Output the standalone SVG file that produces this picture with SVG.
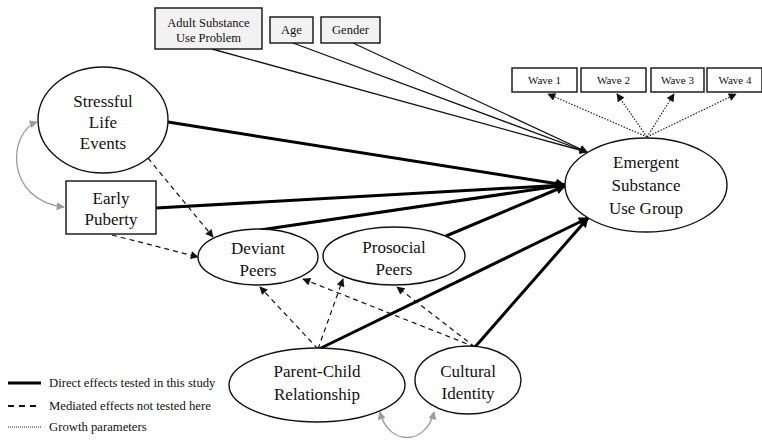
<svg xmlns="http://www.w3.org/2000/svg" width="762" height="441" viewBox="0 0 762 441">
<style>
text{font-family:"Liberation Serif","Times New Roman",serif;fill:#111;text-anchor:middle}
.n{font-size:17px}
.s{font-size:12.5px}
.w{font-size:11px}
.lg{font-size:12.7px;text-anchor:start}
.node{fill:#fff;stroke:#111;stroke-width:1.4}
.cov{fill:#f2f2f2;stroke:#111;stroke-width:1.4}
.thick{stroke:#000;stroke-width:3;fill:none}
.thin{stroke:#111;stroke-width:1.3;fill:none}
.dash{stroke:#111;stroke-width:1.2;stroke-dasharray:5,4;fill:none}
.dot{stroke:#222;stroke-width:1.2;stroke-dasharray:1.5,1.5;fill:none}
.gray{stroke:#9a9a9a;stroke-width:1.3;fill:none}
</style>
<defs>
<marker id="aT" viewBox="0 0 10 10" refX="9" refY="5" markerWidth="14" markerHeight="10" markerUnits="userSpaceOnUse" orient="auto"><path d="M0,0 L10,5 L0,10 z" fill="#000"/></marker>
<marker id="aS" viewBox="0 0 10 10" refX="9" refY="5" markerWidth="10" markerHeight="8" markerUnits="userSpaceOnUse" orient="auto"><path d="M0,0 L10,5 L0,10 z" fill="#111"/></marker>
<marker id="aG" viewBox="0 0 10 10" refX="9" refY="5" markerWidth="9" markerHeight="8" markerUnits="userSpaceOnUse" orient="auto-start-reverse"><path d="M0,0 L10,5 L0,10 z" fill="#9a9a9a"/></marker>
</defs>

<g id="connectors">
<!-- covariates -->
<line class="thin" x1="212" y1="49" x2="587" y2="152" marker-end="url(#aS)"/>
<line class="thin" x1="293" y1="43" x2="587" y2="152" marker-end="url(#aS)"/>
<line class="thin" x1="353" y1="43" x2="587" y2="152" marker-end="url(#aS)"/>
<!-- growth -->
<line class="dot" x1="647" y1="137" x2="548" y2="94" marker-end="url(#aS)"/>
<line class="dot" x1="647" y1="137" x2="617" y2="94" marker-end="url(#aS)"/>
<line class="dot" x1="647" y1="137" x2="674" y2="94" marker-end="url(#aS)"/>
<line class="dot" x1="647" y1="137" x2="736" y2="94" marker-end="url(#aS)"/>
<!-- direct effects -->
<line class="thick" x1="168" y1="122" x2="565" y2="185" marker-end="url(#aT)"/>
<line class="thick" x1="156" y1="208" x2="565" y2="185" marker-end="url(#aT)"/>
<line class="thick" x1="260" y1="230" x2="565" y2="185" marker-end="url(#aT)"/>
<line class="thick" x1="446" y1="236" x2="565" y2="186" marker-end="url(#aT)"/>
<line class="thick" x1="319" y1="349" x2="588" y2="218" marker-end="url(#aT)"/>
<line class="thick" x1="475" y1="347" x2="588" y2="218" marker-end="url(#aT)"/>
<!-- mediated -->
<line class="dash" x1="148" y1="158" x2="213" y2="237" marker-end="url(#aS)"/>
<line class="dash" x1="112" y1="235" x2="198" y2="257" marker-end="url(#aS)"/>
<line class="dash" x1="318" y1="349" x2="260" y2="287" marker-end="url(#aS)"/>
<line class="dash" x1="318" y1="349" x2="343" y2="279" marker-end="url(#aS)"/>
<line class="dash" x1="475" y1="347" x2="303" y2="279" marker-end="url(#aS)"/>
<line class="dash" x1="475" y1="347" x2="397" y2="287" marker-end="url(#aS)"/>
<!-- correlations -->
<path class="gray" d="M37,122 C8,132 4,200 64,207" marker-start="url(#aG)" marker-end="url(#aG)"/>
<path class="gray" d="M380,412 C388,446 426,446 434,412" marker-start="url(#aG)" marker-end="url(#aG)"/>
</g>

<g id="adult-substance-use-problem">
<rect class="cov" x="155" y="8" width="107" height="41"/>
<text class="s" x="208.5" y="27">Adult Substance</text>
<text class="s" x="208.5" y="42">Use Problem</text>
</g>
<g id="age">
<rect class="cov" x="270" y="17" width="43" height="26"/>
<text class="s" x="291.5" y="34">Age</text>
</g>
<g id="gender">
<rect class="cov" x="321" y="17" width="59" height="26"/>
<text class="s" x="350.5" y="34">Gender</text>
</g>

<g id="wave1"><rect class="node" x="512" y="68" width="65" height="24"/><text class="w" x="544.5" y="84">Wave 1</text></g>
<g id="wave2"><rect class="node" x="581" y="68" width="65" height="24"/><text class="w" x="613.5" y="84">Wave 2</text></g>
<g id="wave3"><rect class="node" x="651" y="68" width="53" height="24"/><text class="w" x="677.5" y="84">Wave 3</text></g>
<g id="wave4"><rect class="node" x="707" y="68" width="55" height="24"/><text class="w" x="735" y="84">Wave 4</text></g>

<g id="stressful-life-events">
<ellipse class="node" cx="103" cy="120" rx="65" ry="53"/>
<text class="n" x="103" y="107">Stressful</text>
<text class="n" x="103" y="128">Life</text>
<text class="n" x="103" y="149">Events</text>
</g>
<g id="early-puberty">
<rect class="node" x="66" y="181" width="90" height="53"/>
<text class="n" x="111" y="204">Early</text>
<text class="n" x="111" y="225">Puberty</text>
</g>
<g id="deviant-peers">
<ellipse class="node" cx="258" cy="257" rx="60" ry="28"/>
<text class="n" x="258" y="254">Deviant</text>
<text class="n" x="258" y="276">Peers</text>
</g>
<g id="prosocial-peers">
<ellipse class="node" cx="394" cy="256" rx="71" ry="29"/>
<text class="n" x="394" y="253">Prosocial</text>
<text class="n" x="394" y="275">Peers</text>
</g>
<g id="parent-child-relationship">
<ellipse class="node" cx="317" cy="385" rx="88" ry="37"/>
<text class="n" x="317" y="377">Parent-Child</text>
<text class="n" x="317" y="400">Relationship</text>
</g>
<g id="cultural-identity">
<ellipse class="node" cx="468" cy="380" rx="53" ry="34"/>
<text class="n" x="468" y="377">Cultural</text>
<text class="n" x="468" y="399">Identity</text>
</g>
<g id="emergent-substance-use-group">
<ellipse class="node" cx="646" cy="185" rx="81" ry="47"/>
<text class="n" x="646" y="168">Emergent</text>
<text class="n" x="646" y="191">Substance</text>
<text class="n" x="646" y="214">Use Group</text>
</g>

<g id="legend">
<line class="thick" x1="8" y1="383" x2="41" y2="383"/>
<text class="lg" x="49" y="387">Direct effects tested in this study</text>
<line class="dash" x1="8" y1="406" x2="41" y2="406" style="stroke-width:2;stroke-dasharray:6,5"/>
<text class="lg" x="49" y="410">Mediated effects not tested here</text>
<line class="dot" x1="8" y1="427" x2="41" y2="427" style="stroke-width:1;stroke-dasharray:1,1"/>
<text class="lg" x="49" y="431">Growth parameters</text>
</g>
</svg>
